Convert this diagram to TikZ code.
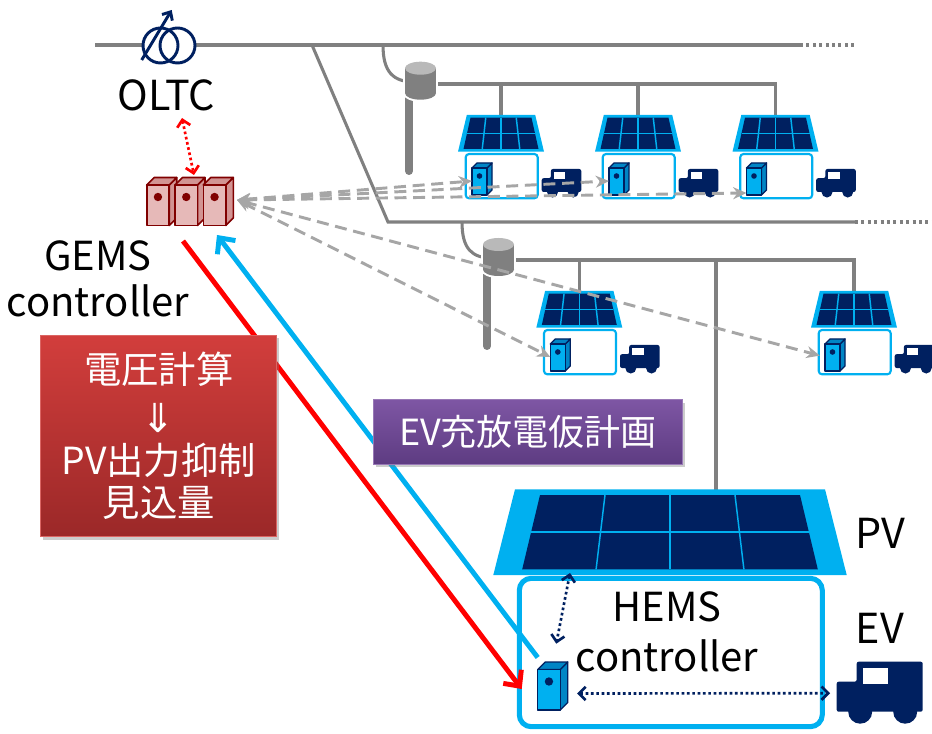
\documentclass[tikz,border=0pt]{standalone}
\usepackage{fontspec}
\setmainfont{Noto Sans CJK JP}
\newfontfamily\arrowfont{DejaVu Sans}
\usetikzlibrary{arrows.meta,shadows}

\definecolor{navy}{RGB}{0,32,96}
\definecolor{sky}{RGB}{0,176,240}
\definecolor{linegray}{RGB}{128,128,128}
\definecolor{dashgray}{RGB}{166,166,166}
\definecolor{gemspink}{RGB}{230,185,184}
\definecolor{gemsred}{RGB}{128,0,0}
\definecolor{calctop}{RGB}{210,62,60}
\definecolor{calcbot}{RGB}{155,40,40}
\definecolor{plantop}{RGB}{126,86,164}
\definecolor{planbot}{RGB}{94,60,130}

\tikzset{
  grid/.style={draw=linegray, line width=2.3pt},
  pole/.style={draw=linegray, line width=6pt, line cap=round},
  house/.style={draw=sky, line width=1.6pt, rounded corners=2.5pt, fill=white},
  hems box/.style={draw=sky, line width=3.8pt, rounded corners=9pt},
  cell line/.style={draw=sky, line width=1.1pt},
  gems front/.style={fill=gemspink, draw=gemsred, line width=1.2pt, line join=round},
  gems side/.style={fill=gemspink!80!gemsred, draw=gemsred, line width=1.2pt, line join=round},
  gems dot/.style={fill=gemsred},
  hems front/.style={fill=sky, draw=navy, line width=1pt, line join=round},
  hems side/.style={fill=sky!70!navy, draw=navy, line width=1pt, line join=round},
  hems dot/.style={fill=navy},
  lbl/.style={font=\fontsize{31}{35}\selectfont, inner sep=0pt, align=center},
  feed link/.style={draw=dashgray, line width=2.2pt, dash pattern=on 9pt off 5pt,
    {Stealth[length=10pt,width=9pt]}-{Stealth[length=10pt,width=9pt]}},
  oltc link/.style={draw=red, line width=2pt, dash pattern=on 2pt off 2pt,
    {Straight Barb[length=5pt,width=10pt]}-{Straight Barb[length=5pt,width=10pt]}},
  ctrl link/.style={draw=navy, line width=2pt, dash pattern=on 2pt off 2pt,
    {Straight Barb[length=5pt,width=10pt]}-{Straight Barb[length=5pt,width=10pt]}},
  down link/.style={draw=red, line width=3.7pt, -{Straight Barb[length=9pt,width=17pt]}},
  up link/.style={draw=sky, line width=3.7pt, -{Straight Barb[length=9pt,width=17pt]}},
  calc box/.style={top color=calctop, bottom color=calcbot, draw=calctop!80!white, line width=0.6pt,
    text=white, minimum width=177pt, minimum height=151pt, inner sep=0pt, align=center,
    font=\fontsize{28}{31.5}\selectfont,
    drop shadow={shadow xshift=2pt, shadow yshift=-2.5pt, opacity=0.4}},
  plan box/.style={top color=plantop, bottom color=planbot, draw=plantop!80!white, line width=0.6pt,
    text=white, minimum width=232pt, minimum height=48.5pt, inner sep=0pt,
    font=\fontsize{27}{30}\selectfont,
    drop shadow={shadow xshift=2pt, shadow yshift=-2.5pt, opacity=0.4}}
}

% centre x, top y, height, outer half widths, inset, inner half widths
\newcommand{\pvpanel}[8]{%
  \begin{scope}[shift={(#1,#2)}]
    \fill[sky] (-#4,0) -- (#4,0) -- (#5,#3) -- (-#5,#3) -- cycle;
    \fill[navy] (-#7,#6) -- (#7,#6) -- (#8,#3-#6) -- (-#8,#3-#6) -- cycle;
    \foreach \i in {-0.5,0,0.5}
      \draw[cell line] ({\i*#7},#6) -- ({\i*#8},{#3-#6});
    \draw[cell line] ({-(#7+#8)/2},{#3/2}) -- ({(#7+#8)/2},{#3/2});
  \end{scope}}

% controller cabinet: name, front top-left, scale, colour set
\newcommand{\cabinet}[4]{%
  \begin{scope}[shift={#2}, scale=#3]
    \filldraw[#4 side] (15,0) -- (20,-5) -- (20,22) -- (15,27) -- cycle;
    \filldraw[#4 side] (0,0) -- (5,-5) -- (20,-5) -- (15,0) -- cycle;
    \filldraw[#4 front] (0,0) rectangle (15,27);
    \fill[#4 dot] (7.5,8) circle[radius=2.8];
    \coordinate (#1) at (0,13);
    \coordinate (#1-nw) at (0,-8);
    \coordinate (#1-n) at (10,-5);
    \coordinate (#1-e) at (20,16);
  \end{scope}}

\newcommand{\truck}[3]{%
  \begin{scope}[shift={#2}, scale=#3]
    \fill[navy, rounded corners=1.5pt] (0,20) -- (20,20) -- (20,0) -- (86,0) -- (86,50) -- (0,50) -- cycle;
    \fill[navy] (23.5,50) circle[radius=12];
    \fill[navy] (68.5,50) circle[radius=12];
    \fill[white] (26,6.5) rectangle (51.5,22.5);
    \coordinate (#1) at (0,31.5);
  \end{scope}}

\newcommand{\tank}[1]{%
  \begin{scope}[shift={#1}]
    \filldraw[white, line width=3pt] (0,6.5) rectangle (31,31.5);
    \filldraw[white, line width=3pt] (15.5,6.5) ellipse[x radius=15.5, y radius=6.5];
    \filldraw[white, line width=3pt] (15.5,31.5) ellipse[x radius=15.5, y radius=6.5];
    \fill[linegray] (0,6.5) rectangle (31,31.5);
    \fill[linegray] (15.5,31.5) ellipse[x radius=15.5, y radius=6.5];
    \fill[linegray!55] (15.5,6.5) ellipse[x radius=15.5, y radius=6.5];
  \end{scope}}

% name, centre x, panel top y
\newcommand{\home}[3]{%
  \pvpanel{#2}{#3}{36.7}{34.2}{43}{2.7}{30.5}{37.5}
  \begin{scope}[shift={(#2,#3)}]
    \draw[house] (-35.3,39) rectangle (36.7,83.3);
    \cabinet{#1}{(-29,53)}{1}{hems}
    \truck{#1-ev}{(40.7,54)}{0.46}
  \end{scope}}

\begin{document}
\begin{tikzpicture}[x=0.75pt, y=-0.75pt]
\useasboundingbox (0,0) rectangle (932,734);

% distribution lines
\draw[grid] (95,45) -- (800,45);
\draw[grid, dash pattern=on 2.2pt off 2.6pt] (800,45) -- (857,45);
\draw[grid] (312,45) -- (388,222) -- (855,222);
\draw[grid, dash pattern=on 2.2pt off 2.6pt] (855,222) -- (932,222);
\draw[grid] (383,45) .. controls (383,72) and (393,82) .. (415,82);
\draw[grid] (462,222) .. controls (462,249) and (472,258) .. (492,258);
\draw[pole] (409,70) -- (409,171);
\draw[pole] (487,246) -- (487,346);
\draw[grid] (436,84) -- (775.5,84) -- (775.5,115);
\draw[grid] (501,84) -- (501,115);
\draw[grid] (638,84) -- (638,115);
\draw[grid] (514,260) -- (854,260) -- (854,291);
\draw[grid] (579.3,260) -- (579.3,291);
\draw[grid] (716,260) -- (716,490);
\tank{(405,61.7)}
\tank{(483,238)}

% OLTC
\fill[white] (160.5,45.5) circle[radius=17.5];
\fill[white] (177.5,45.5) circle[radius=17.5];
\draw[navy, line width=2.2pt] (160.5,45.5) circle[radius=17.5];
\draw[navy, line width=2.2pt] (177.5,45.5) circle[radius=17.5];
\draw[navy, line width=2.2pt, -{Straight Barb[length=5pt,width=9pt]}] (141.7,60) -- (171.7,10);
\node[lbl] (oltc) at (166.5,95) {OLTC};
\coordinate (oltc-c) at (182,118);

% homes
\home{h1}{501}{115}
\home{h2}{638}{115}
\home{h3}{775.5}{115}
\home{h4}{579.3}{291}
\home{h5}{854}{291}

% HEMS house
\pvpanel{670}{489.3}{85.7}{155}{176.7}{5.7}{130}{147.8}
\coordinate (pv-c) at (570,573);
\draw[hems box] (519.3,578.3) rectangle (822.3,726.7);
\cabinet{hems}{(537.7,669.5)}{1.5}{hems}
\truck{ev}{(836.7,661.7)}{1}
\node[lbl, font=\fontsize{30}{38}\selectfont] (hemslbl) at (667,632) {HEMS\\controller};
\node[lbl] (pvlbl) at (880,533) {PV};
\node[lbl] (evlbl) at (880,628) {EV};

% GEMS
\cabinet{srv1}{(146.7,185)}{1.5}{gems}
\cabinet{srv2}{(175,185)}{1.5}{gems}
\cabinet{srv3}{(203.3,185)}{1.5}{gems}
\coordinate (gems) at (237,200);
\coordinate (gems-top) at (194,175);
\coordinate (gems-out) at (183,241);
\coordinate (gems-in) at (217,235);
\node[lbl, font=\fontsize{30}{35}\selectfont] (gemslbl) at (98,279) {GEMS\\controller};

\draw[oltc link] (oltc-c) -- (gems-top);
\draw[feed link] (gems) -- (h1);
\draw[feed link] (gems) -- (h2);
\draw[feed link] (gems) -- ([yshift=-9pt]h3);
\draw[feed link] (gems) -- (h4);
\draw[feed link, shorten >=4pt] (gems) -- (h5);
\draw[down link] (gems-out) -- ([xshift=-12pt]hems);
\draw[up link] (hems-nw) -- (gems-in);
\draw[ctrl link, shorten >=14pt] (pv-c) -- (hems-n);
\draw[ctrl link, shorten <=7pt, shorten >=5pt] (hems-e) -- (ev);

\node[calc box] (calc) at (158.7,435.8) {電圧計算\\[5pt]{\arrowfont\fontsize{30}{31.5}\selectfont ⇓}\\PV出力抑制\\見込量};
\node[plan box] (plan) at (528,431.7) {EV充放電仮計画};
\end{tikzpicture}
\end{document}
